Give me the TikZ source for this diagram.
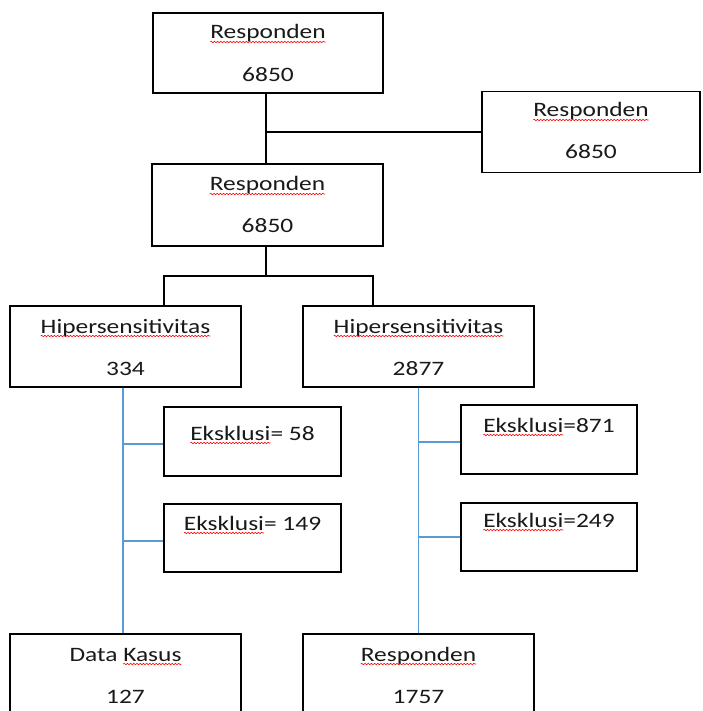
\documentclass[tikz,border=0pt]{standalone}
\usepackage{fontspec}
\setmainfont{Carlito}[FakeStretch=1.24]
\usetikzlibrary{decorations.pathmorphing}
\definecolor{linkblue}{RGB}{91,155,213}
\newsavebox\wbox
\newcommand\sqw[1]{\sbox\wbox{#1}\usebox\wbox\tikz[overlay,baseline=0pt]\draw[red,line width=0.6pt,decorate,decoration={snake,amplitude=0.7pt,segment length=3.2pt}] (-\wd\wbox,-3pt) -- (0pt,-3pt);}
\tikzset{
  box/.style={draw=black,line width=1.5pt,fill=white,inner sep=0pt},
  txt/.style={anchor=base,inner sep=0pt,font=\fontsize{20.5}{24}\selectfont,text=black!90},
  conn/.style={draw=black,line width=1.8pt},
  bconn/.style={draw=linkblue,line width=1.8pt}
}
\begin{document}
\begin{tikzpicture}[x=1pt,y=-1pt]
\useasboundingbox (0,0) rectangle (702,711);
\clip (0,0) rectangle (702,711);
% boxes
\node[box,minimum width=230pt,minimum height=80pt] (A) at (268,53) {};
\node[box,minimum width=218pt,minimum height=81pt] (B) at (591,132) {};
\node[box,minimum width=231pt,minimum height=82pt] (C) at (267.5,205) {};
\node[box,minimum width=231pt,minimum height=81pt] (D) at (125.5,346.5) {};
\node[box,minimum width=231pt,minimum height=81pt] (E) at (418.5,346.5) {};
\node[box,minimum width=177pt,minimum height=69pt] (X1) at (252.5,441.5) {};
\node[box,minimum width=177pt,minimum height=68pt] (X2) at (252.5,538) {};
\node[box,minimum width=176pt,minimum height=69pt] (X3) at (549,439.5) {};
\node[box,minimum width=176pt,minimum height=68pt] (X4) at (549,537) {};
\node[box,minimum width=231pt,minimum height=82pt] (G) at (125.5,675) {};
\node[box,minimum width=231pt,minimum height=82pt] (H) at (418.5,675) {};
% texts
\node[txt] (At) at (268,39) {\sqw{Responden}};
\node[txt] (An) at (268,82) {6850};
\node[txt] (Bt) at (591,117) {\sqw{Responden}};
\node[txt] (Bn) at (591,159) {6850};
\node[txt] (Ct) at (267.5,191) {\sqw{Responden}};
\node[txt] (Cn) at (267.5,233) {6850};
\node[txt] (Dt) at (125.5,333) {\sqw{Hipersensitivitas}};
\node[txt] (Dn) at (125.5,375) {334};
\node[txt] (Et) at (418.5,333) {\sqw{Hipersensitivitas}};
\node[txt] (En) at (418.5,375) {2877};
\node[txt] (X1t) at (252.5,440) {\sqw{Eksklusi}= 58};
\node[txt] (X2t) at (252.5,530) {\sqw{Eksklusi}= 149};
\node[txt] (X3t) at (549,432) {\sqw{Eksklusi}=871};
\node[txt] (X4t) at (549,527) {\sqw{Eksklusi}=249};
\node[txt] (Gt) at (125.5,661) {Data \sqw{Kasus}};
\node[txt] (Gn) at (125.5,703) {127};
\node[txt] (Ht) at (418.5,661) {\sqw{Responden}};
\node[txt] (Hn) at (418.5,703) {1757};
% black connectors
\coordinate (sA) at ([xshift=-2pt]A.south);
\draw[conn] (sA) -- (sA |- C.north);
\draw[conn] (sA |- B.west) -- (B.west);
\coordinate (barL) at (164,276);
\coordinate (barR) at (373,276);
\draw[conn] (sA |- C.south) -- (sA |- barL);
\draw[conn] (barL |- D.north) -- (barL) -- (barR) -- (barR |- E.north);
% blue connectors
\coordinate (sL) at ([xshift=-2.5pt]D.south);
\coordinate (w1) at ([yshift=-2.5pt]X1.west);
\coordinate (w2) at ([yshift=-3pt]X2.west);
\coordinate (w3) at ([yshift=-2.5pt]X3.west);
\coordinate (w4) at (X4.west);
\coordinate (sR) at (E.south);
\draw[bconn] (sL) -- (sL |- G.north);
\draw[bconn] (sL |- w1) -- (w1);
\draw[bconn] (sL |- w2) -- (w2);
\draw[bconn] (sR) -- (sR |- H.north);
\draw[bconn] (sR |- w3) -- (w3);
\draw[bconn] (sR |- w4) -- (w4);
\end{tikzpicture}
\end{document}
